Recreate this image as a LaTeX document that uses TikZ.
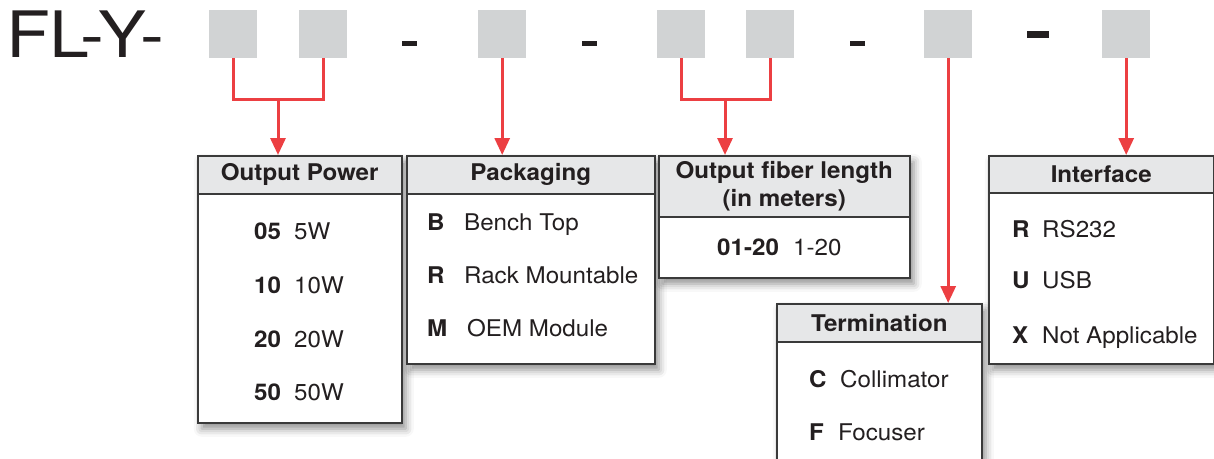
\documentclass[tikz,border=0pt]{standalone}
\usepackage{fontspec}
\setmainfont{TeX Gyre Heros}[FakeStretch=1.05]
\newfontfamily\titlefont{TeX Gyre Heros}[FakeStretch=1.12]
\usetikzlibrary{arrows.meta, positioning, shadows.blur}
\definecolor{slot}{HTML}{D1D3D4}
\definecolor{headgray}{HTML}{E6E7E8}
\definecolor{pointer}{HTML}{EC3F42}
\definecolor{ink}{HTML}{231F20}
\definecolor{rim}{HTML}{3A3A3A}
\tikzset{
    %Define standard arrow tip
    >={Triangle[length=17pt,width=15pt]},
}

\begin{document}
\begin{tikzpicture}[x=1pt, y=-1pt,
    slotbox/.style = {fill=slot, minimum width=48pt, minimum height=48pt,
                      inner sep=0, anchor=north west},
    sep/.style = {fill=ink, minimum width=15pt, minimum height=5pt, inner sep=0},
    frame/.style = {draw=rim, line width=1.5pt, fill=white, anchor=north west,
                    inner sep=0, blur shadow={shadow xshift=4pt, shadow yshift=-6pt,
                    shadow blur radius=8pt, shadow opacity=45}},
    head/.style = {draw=rim, line width=1.5pt, fill=headgray, anchor=north west,
                   inner sep=0, align=center, text=ink,
                   font=\fontsize{23}{28}\selectfont\bfseries},
    code/.style = {anchor=base west, inner sep=0, text=ink,
                   font=\fontsize{23}{26}\selectfont\bfseries},
    item/.style = {anchor=base west, inner sep=0, text=ink,
                   font=\fontsize{23}{26}\selectfont},
    link/.style = {draw=pointer, line width=3pt, line join=miter},
  ]
  \useasboundingbox (0,0) rectangle (1214,458);
  \clip (0,0) rectangle (1214,458);

  % part number
  \node[anchor=base west, inner sep=0, text=ink,
        font=\fontsize{64}{64}\titlefont] (title) at (6,57) {FL-Y-};
  \node[slotbox] (s1) at (209,10) {};
  \node[slotbox] (s2) at (299,10) {};
  \node[sep] (d1) at (409,43) {};
  \node[slotbox] (s3) at (478,10) {};
  \node[sep] (d2) at (589,43) {};
  \node[slotbox] (s4) at (657,10) {};
  \node[slotbox] (s5) at (746,10) {};
  \node[sep] (d3) at (857,43) {};
  \node[slotbox] (s6) at (924,10) {};
  \node[sep, minimum width=22pt, minimum height=7pt] (d4) at (1038,34) {};
  \node[slotbox] (s7) at (1102,10) {};

  % boxes
  \node[frame, minimum width=204pt, minimum height=267pt] (power) at (197,155) {};
  \node[head, minimum width=204pt, minimum height=38pt] (powerhead) at (power.north west) {Output Power};
  \node[frame, minimum width=248pt, minimum height=208pt] (pack) at (406,155) {};
  \node[head, minimum width=248pt, minimum height=38pt] (packhead) at (pack.north west) {Packaging};
  \node[frame, minimum width=251pt, minimum height=122pt] (fiber) at (658,155) {};
  \node[head, minimum width=251pt, minimum height=61pt] (fiberhead) at (fiber.north west) {Output fiber length\\(in meters)};
  \node[frame, minimum width=205pt, minimum height=200pt] (term) at (776,303) {};
  \node[head, minimum width=205pt, minimum height=38pt] (termhead) at (term.north west) {Termination};
  \node[frame, minimum width=225pt, minimum height=208pt] (iface) at (988,155) {};
  \node[head, minimum width=225pt, minimum height=37pt] (ifacehead) at (iface.north west) {Interface};

  \foreach \c/\d/\y in {05/5W/239, 10/10W/293, 20/20W/347, 50/50W/400} {
    \node[code] (powercode\c) at (254,\y) {\c};
    \node[item] (powertext\c) at (294,\y) {\d};
  }
  \node[code] (packcodeB) at (427,230) {B};
  \node[item] (packtextB) at (464,230) {Bench Top};
  \node[code] (packcodeR) at (427,283) {R};
  \node[item] (packtextR) at (464,283) {Rack Mountable};
  \node[code] (packcodeM) at (427,336) {M};
  \node[item] (packtextM) at (467,336) {OEM Module};
  \node[code] (fibercode) at (717,255) {01-20};
  \node[item] (fibertext) at (793,255) {1-20};
  \node[code] (termcodeC) at (809,387) {C};
  \node[item] (termtextC) at (840,387) {Collimator};
  \node[code] (termcodeF) at (809,440) {F};
  \node[item] (termtextF) at (838,440) {Focuser};
  \foreach \c/\d/\y in {R/RS232/237, U/USB/288, X/Not Applicable/343} {
    \node[code] (ifacecode\c) at (1012,\y) {\c};
    \node[item] (ifacetext\c) at (1042,\y) {\d};
  }

  % pointers
  \coordinate (pjoin) at (278,99);
  \coordinate (fjoin) at (725,99);
  \draw[link] (s1.south) |- (pjoin) -| (s2.south);
  \draw[link,->] (pjoin) -- (pjoin |- powerhead.north);
  \draw[link,->] (s3.south) -- (s3.south |- packhead.north);
  \draw[link] (s4.south) |- (fjoin) -| (s5.south);
  \draw[link,->] (fjoin) -- (fjoin |- fiberhead.north);
  \draw[link,->] (s6.south) -- (s6.south |- termhead.north);
  \draw[link,->] (s7.south) -- (s7.south |- ifacehead.north);

\end{tikzpicture}
\end{document}
